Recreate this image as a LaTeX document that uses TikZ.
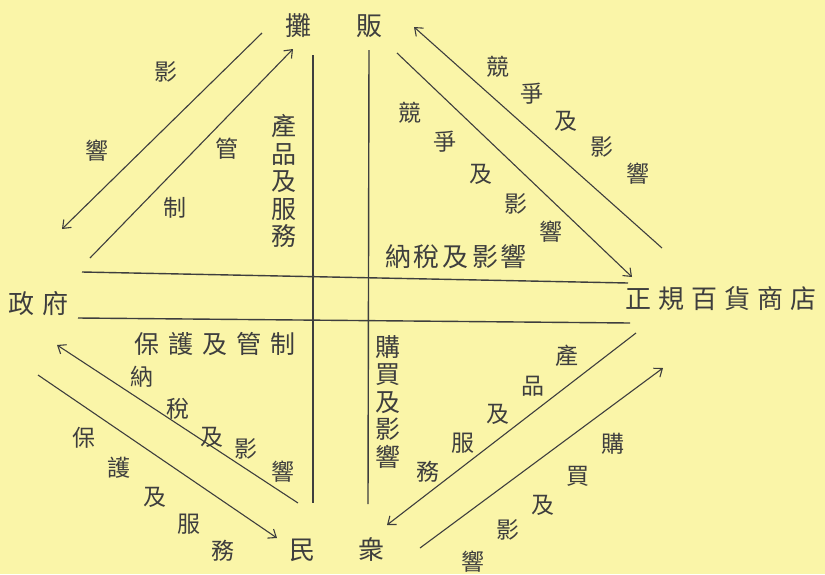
\documentclass[tikz,border=0pt]{standalone}
\usepackage{fontspec}
\newfontfamily\cjk{Noto Sans CJK TC}
\usetikzlibrary{arrows.meta}
\definecolor{paper}{RGB}{250,245,168}
\definecolor{ink}{RGB}{62,62,62}
\tikzset{
  ch/.style={inner sep=0pt, text=ink, font=\cjk\fontsize{23}{23}\selectfont},
  bigch/.style={inner sep=0pt, text=ink, font=\cjk\fontsize{26}{26}\selectfont},
  vtext/.style={inner sep=0pt, text=ink, align=center, font=\cjk\fontsize{25}{27.5}\selectfont},
  conn/.style={draw=ink, line width=1.1pt},
  arr/.style={conn, -{Straight Barb[length=7pt,width=11pt,line width=1.1pt]}},
  rule/.style={draw=ink, line width=1.4pt}
}
\begin{document}
\begin{tikzpicture}[x=1pt,y=-1pt]
\fill[paper] (0,0) rectangle (825,574);
\useasboundingbox (0,0) rectangle (825,574);

% main labels
\node[bigch] (tan) at (298,26) {攤};
\node[bigch] (fan) at (369,26) {販};
\node[bigch] (gov) at (39,304) {政\hspace{8pt}府};
\node[bigch] (store) at (721,299) {正\hspace{7pt}規\hspace{7pt}百\hspace{7pt}貨\hspace{7pt}商\hspace{7pt}店};
\node[bigch] (min) at (302,550) {民};
\node[bigch] (zhong) at (371,550) {衆};

% central grid
\coordinate (h1a) at (82,272);  \coordinate (h1b) at (628,283);
\coordinate (h2a) at (78,318);  \coordinate (h2b) at (630,323);
\coordinate (v1a) at (313,55);  \coordinate (v1b) at (313,503);
\coordinate (v2a) at (369,50);  \coordinate (v2b) at (368,504);
\draw[rule] (h1a) -- (h1b);
\draw[rule] (h2a) -- (h2b);
\draw[rule] (v1a) -- (v1b);
\draw[rule] (v2a) -- (v2b);

% grid texts
\node[vtext] (prodsrv) at (284,181) {產\\品\\及\\服\\務};
\node[vtext] (buyinf) at (388,402) {購\\買\\及\\影\\響};
\node[ch, font=\cjk\fontsize{26}{26}\selectfont] (taxtop) at (456,257) {納\hspace{3pt}稅\hspace{3pt}及\hspace{3pt}影\hspace{3pt}響};
\node[ch, font=\cjk\fontsize{25}{25}\selectfont] (protctl) at (215,344) {保\hspace{9pt}護\hspace{9pt}及\hspace{9pt}管\hspace{9pt}制};

% upper-left arrows
\coordinate (ul1a) at (262,33); \coordinate (ul1b) at (62,229);
\draw[arr] (ul1a) -- (ul1b);
\coordinate (ul2a) at (90,258); \coordinate (ul2b) at (293,49);
\draw[arr] (ul2a) -- (ul2b);
\node[ch] (ulA) at (166,72) {影};
\node[ch] (ulB) at (97,151) {響};
\node[ch] (ulC) at (227,149) {管};
\node[ch] (ulD) at (175,208) {制};

% upper-right arrows
\coordinate (ur1a) at (662,248); \coordinate (ur1b) at (414,27);
\draw[arr] (ur1a) -- (ur1b);
\coordinate (ur2a) at (397,53); \coordinate (ur2b) at (632,277);
\draw[arr] (ur2a) -- (ur2b);
\node[ch] (urA) at (498,67) {競};
\node[ch] (urB) at (532,94) {爭};
\node[ch] (urC) at (566,121) {及};
\node[ch] (urD) at (602,147) {影};
\node[ch] (urE) at (638,174) {響};
\node[ch] (urF) at (410,113) {競};
\node[ch] (urG) at (445,142) {爭};
\node[ch] (urH) at (481,174) {及};
\node[ch] (urI) at (516,204) {影};
\node[ch] (urJ) at (551,232) {響};

% lower-left arrows
\coordinate (ll1a) at (298,503); \coordinate (ll1b) at (57,345);
\draw[arr] (ll1a) -- (ll1b);
\coordinate (ll2a) at (38,375); \coordinate (ll2b) at (277,538);
\draw[arr] (ll2a) -- (ll2b);
\node[ch] (llA) at (142,377) {納};
\node[ch] (llB) at (178,409) {稅};
\node[ch] (llC) at (212,437) {及};
\node[ch] (llD) at (246,449) {影};
\node[ch] (llE) at (283,472) {響};
\node[ch] (llF) at (84,438) {保};
\node[ch] (llG) at (119,468) {護};
\node[ch] (llH) at (155,497) {及};
\node[ch] (llI) at (189,524) {服};
\node[ch] (llJ) at (223,551) {務};

% lower-right arrows
\coordinate (lr1a) at (636,333); \coordinate (lr1b) at (387,525);
\draw[arr] (lr1a) -- (lr1b);
\coordinate (lr2a) at (420,548); \coordinate (lr2b) at (663,368);
\draw[arr] (lr2a) -- (lr2b);
\node[ch] (lrA) at (567,356) {產};
\node[ch] (lrB) at (533,386) {品};
\node[ch] (lrC) at (498,414) {及};
\node[ch] (lrD) at (463,443) {服};
\node[ch] (lrE) at (428,472) {務};
\node[ch] (lrF) at (613,444) {購};
\node[ch] (lrG) at (578,476) {買};
\node[ch] (lrH) at (543,505) {及};
\node[ch] (lrI) at (508,530) {影};
\node[ch] (lrJ) at (473,562) {響};
\end{tikzpicture}
\end{document}
